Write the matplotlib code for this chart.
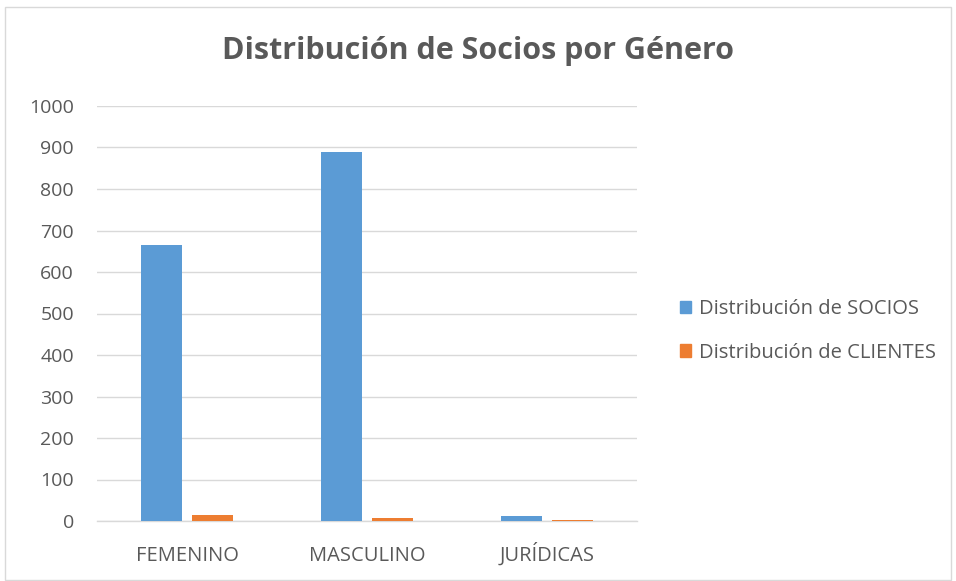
import matplotlib
matplotlib.use("Agg")
import matplotlib.pyplot as plt
import numpy as np
from matplotlib.patches import Rectangle, Patch

categories = ["FEMENINO", "MASCULINO", "JURÍDICAS"]
socios = [665, 890, 12]
clientes = [14, 8, 2]
yticks = [0, 100, 200, 300, 400, 500, 600, 700, 800, 900, 1000]

plt.rcParams['font.family'] = ['Open Sans', 'DejaVu Sans']

fig = plt.figure(figsize=(9.56, 5.81), dpi=100)
ax = fig.add_axes([97/956, 1-521/581, 540/956, 415/581])

x = np.arange(len(categories))
w = 0.228
off = 0.142
c1 = "#5b9bd5"
c2 = "#ed7d31"
ax.bar(x - off, socios, w, color=c1, zorder=3)
ax.bar(x + off, clientes, w, color=c2, zorder=3)

ax.set_xlim(-0.5, 2.5)
ax.set_ylim(0, 1000)
ax.set_yticks(yticks)
ax.set_xticks(x)
ax.set_xticklabels(categories)
ax.grid(axis='y', color="#d9d9d9", linewidth=1, zorder=0)
for s in ['top', 'right', 'left']:
    ax.spines[s].set_visible(False)
ax.spines['bottom'].set_color("#d9d9d9")
ax.spines['bottom'].set_linewidth(1)
ax.tick_params(axis='both', length=0, colors="#595959")
ax.tick_params(axis='y', pad=16.5, labelsize=14)
ax.tick_params(axis='x', pad=28.8, labelsize=14.5)
for lbl in ax.get_xticklabels():
    lbl.set_va('baseline')

fig.text(0.5, 1 - 51/581, "Distribución de Socios por Género",
         ha='center', va='center', fontsize=22, fontweight='bold', color="#595959")

handles = [Patch(color=c1, label="Distribución de SOCIOS"),
           Patch(color=c2, label="Distribución de CLIENTES")]
fig.legend(handles=handles, loc='center left', bbox_to_anchor=(662/956, 1-331/581),
           frameon=False, fontsize=14.5, labelcolor="#595959",
           handlelength=0.55, handleheight=0.55, handletextpad=0.4, labelspacing=1.15)

fig.add_artist(Rectangle((5/956, 0.002), 946/956, 1-7/581-0.002, transform=fig.transFigure,
                         fill=False, edgecolor="#d9d9d9", linewidth=1))

fig.savefig("out.png", dpi=100)
